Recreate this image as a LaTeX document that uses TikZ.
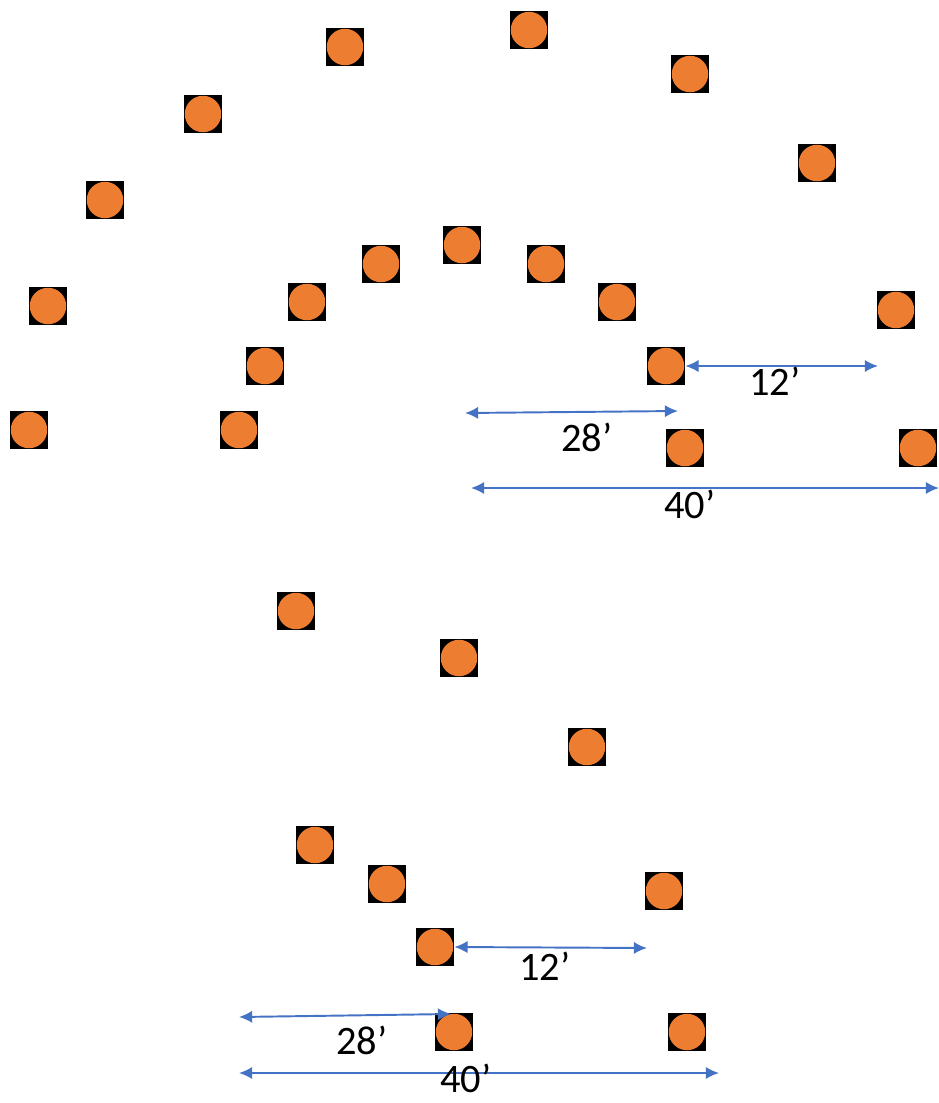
\documentclass[tikz,border=0pt]{standalone}
\usepackage{fontspec}
\setmainfont{Carlito}
\usetikzlibrary{arrows.meta}
\definecolor{postorange}{HTML}{ED7D31}
\definecolor{dimblue}{HTML}{4472C4}
\begin{document}
\begin{tikzpicture}[x=0.02cm,y=-0.02cm]
      \tikzset { post/.style = { shape=rectangle,fill=black,minimum size=0.76cm,inner sep=0pt,
          path picture={\fill[postorange] (path picture bounding box.center) circle (0.365cm);} } }
      \tikzset { dim/.style = { <->,> = {Latex[length=7.5pt,width=7pt]},dimblue,line width=1.1pt } }
      \tikzset { dimlabel/.style = { font=\fontsize{23}{26}\selectfont,inner sep=0pt } }

      \useasboundingbox (0,0) rectangle (939,1103);

      % upper layout
      \node[post] (t1) at (345,47) {};
      \node[post] (t2) at (529,30) {};
      \node[post] (t3) at (690,74) {};
      \node[post] (t4) at (203,114) {};
      \node[post] (t5) at (817,163) {};
      \node[post] (t6) at (105,200) {};
      \node[post] (t7) at (381,264) {};
      \node[post] (t8) at (462,245) {};
      \node[post] (t9) at (546,264) {};
      \node[post] (t10) at (48,306) {};
      \node[post] (t11) at (307,302) {};
      \node[post] (t12) at (617,302) {};
      \node[post] (t13) at (896,310) {};
      \node[post] (t14) at (265,366) {};
      \node[post] (t15) at (666,366) {};
      \node[post] (t16) at (29,430) {};
      \node[post] (t17) at (239,430) {};
      \node[post] (t18) at (685,448) {};
      \node[post] (t19) at (918,448) {};

      \coordinate (ta) at (878,366);
      \coordinate (tb) at (465,413);
      \coordinate (tc) at (678,411);
      \coordinate (td) at (471,488);
      \coordinate (te) at (939,488);

      \draw[dim] (t15.east) to (ta);
      \draw[dim] (tb) to (tc);
      \draw[dim] (td) to (te);

      \node[dimlabel] (l1) at (775,381) {12’};
      \node[dimlabel] (l2) at (587,437) {28’};
      \node[dimlabel] (l3) at (690,504) {40’};

      % lower layout
      \node[post] (b1) at (296,611) {};
      \node[post] (b2) at (459,658) {};
      \node[post] (b3) at (587,747) {};
      \node[post] (b4) at (315,845) {};
      \node[post] (b5) at (387,884) {};
      \node[post] (b6) at (664,891) {};
      \node[post] (b7) at (435,947) {};
      \node[post] (b8) at (454,1032) {};
      \node[post] (b9) at (687,1032) {};

      \coordinate (ba) at (647,948);
      \coordinate (bb) at (239,1017);
      \coordinate (bc) at (451,1014);
      \coordinate (bd) at (239,1073);
      \coordinate (be) at (719,1073);

      \draw[dim] (b7.east) to (ba);
      \draw[dim] (bb) to (bc);
      \draw[dim] (bd) to (be);

      \node[dimlabel] (l4) at (545,966) {12’};
      \node[dimlabel] (l5) at (362,1040) {28’};
      \node[dimlabel] (l6) at (466,1078) {40’};
\end{tikzpicture}
\end{document}
